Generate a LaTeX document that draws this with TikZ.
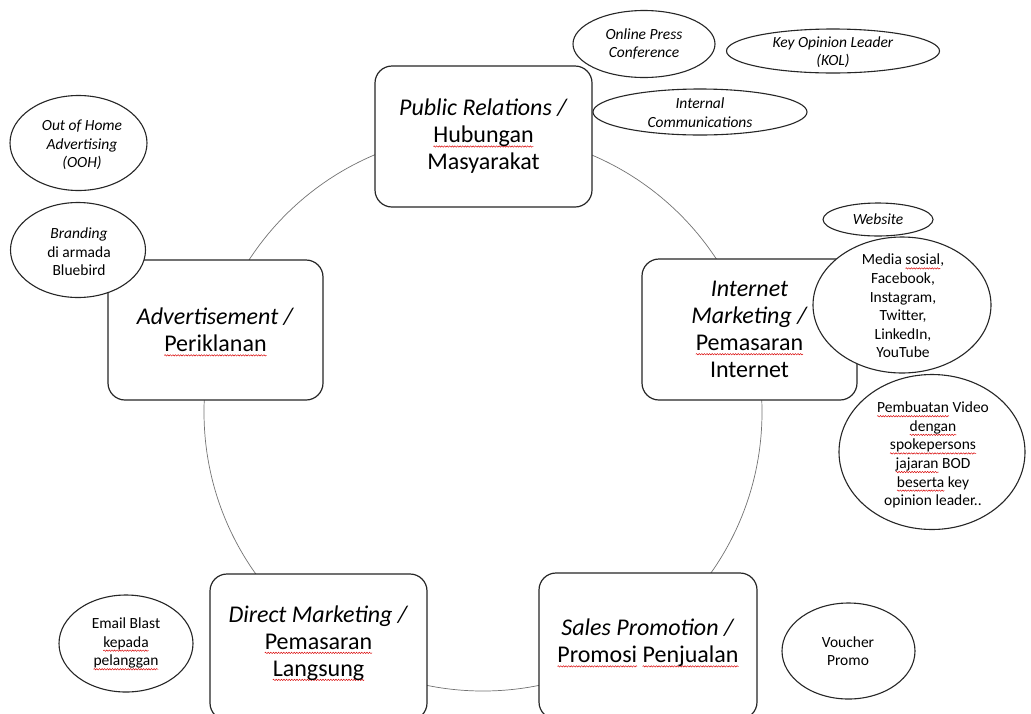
\documentclass[tikz,border=0pt]{standalone}
\usepackage{fontspec}
\setmainfont{Carlito}
\usetikzlibrary{shapes.geometric,decorations.pathmorphing}
\newsavebox\sqwbox
\newcommand\sqw[1]{\sbox\sqwbox{#1}\rlap{\tikz[overlay,baseline=0pt]\draw[red!85!black, line width=0.45pt, decorate, decoration={snake, amplitude=0.7pt, segment length=2.6pt}] (0pt,-3.6pt) -- (\wd\sqwbox,-3.6pt);}\usebox\sqwbox}
\tikzset{
  topic/.style={draw=black!85, line width=1.2pt, fill=white, rounded corners=17pt,
    minimum width=#1, minimum height=141pt, inner sep=0pt},
  topictext/.style={align=center, font=\fontsize{24}{27}\selectfont, text=black},
  ell/.style={draw=black!85, line width=1.1pt, fill=white, ellipse, inner sep=0pt},
  elltext/.style={align=center, font=\fontsize{15.5}{18.6}\selectfont, text=black},
  ring/.style={draw=black!55, line width=0.7pt}
}
\begin{document}
\begin{tikzpicture}[x=1pt, y=-1pt]
\useasboundingbox (0,0) rectangle (1031,713);
\fill[white] (0,0) rectangle (1031,713);
% big ring
\coordinate (ringc) at (483,412);
\draw[ring] (ringc) circle (279pt);
% topic boxes
\node[topic=217pt] (pr) at (483.5,136.5) {};
\node[topictext] (prt) at (pr.center) {\textit{Public Relations /}\\\sqw{Hubungan}\\Masyarakat};
\node[topic=215pt] (im) at (749.5,329.5) {};
\node[topictext] (imt) at (im.center) {\textit{Internet}\\\textit{Marketing /}\\\sqw{Pemasaran}\\Internet};
\node[topic=215pt, minimum height=140pt] (ad) at (215.5,330) {};
\node[topictext] (adt) at (ad.center) {\textit{Advertisement /}\\\sqw{Periklanan}};
\node[topic=217pt, minimum height=146pt] (dm) at (318.5,647) {};
\node[topictext] (dmt) at (318.5,643) {\textit{Direct Marketing /}\\\sqw{Pemasaran}\\\sqw{Langsung}};
\node[topic=218pt, minimum height=146pt] (sp) at (648,646) {};
\node[topictext] (spt) at (648,643) {\textit{Sales Promotion /}\\\sqw{Promosi} \sqw{Penjualan}};
% ellipses
\node[ell, minimum width=142pt, minimum height=67pt] (opc) at (644,44) {};
\node[elltext] (opct) at (opc.center) {\textit{Online Press}\\\textit{Conference}};
\node[ell, minimum width=213pt, minimum height=44pt] (kol) at (833,51) {};
\node[elltext] (kolt) at (833,52) {\textit{Key Opinion Leader}\\\textit{(KOL)}};
\node[ell, minimum width=214pt, minimum height=46pt] (ic) at (700,112) {};
\node[elltext] (ict) at (700,112.5) {\textit{Internal}\\\textit{Communications}};
\node[ell, minimum width=137pt, minimum height=95pt] (ooh) at (78.5,143) {};
\node[elltext] (ooht) at (82,145) {\textit{Out of Home}\\\textit{Advertising}\\\textit{(OOH)}};
\node[ell, minimum width=135pt, minimum height=95pt] (brd) at (78,250) {};
\node[elltext] (brdt) at (79,252) {\textit{Branding}\\di armada\\Bluebird};
\node[ell, minimum width=110pt, minimum height=33pt] (web) at (878,219.5) {};
\node[elltext] (webt) at (web.center) {\textit{Website}};
\node[ell, minimum width=178pt, minimum height=136pt] (med) at (902,305) {};
\node[elltext] (medt) at (903,306) {Media \sqw{sosial},\\Facebook,\\Instagram,\\Twitter,\\LinkedIn,\\YouTube};
\node[ell, minimum width=186pt, minimum height=155pt] (vid) at (932,452) {};
\node[elltext] (vidt) at (933,455) {\sqw{Pembuatan} Video\\\sqw{dengan}\\\sqw{spokepersons}\\\sqw{jajaran} BOD\\\sqw{beserta} key\\opinion leader..};
\node[ell, minimum width=134pt, minimum height=97pt] (email) at (126,643.5) {};
\node[elltext] (emailt) at (126,643) {Email Blast\\\sqw{kepada}\\\sqw{pelanggan}};
\node[ell, minimum width=133pt, minimum height=96pt] (vou) at (848.5,651) {};
\node[elltext] (vout) at (848,651) {Voucher\\Promo};
\end{tikzpicture}
\end{document}
